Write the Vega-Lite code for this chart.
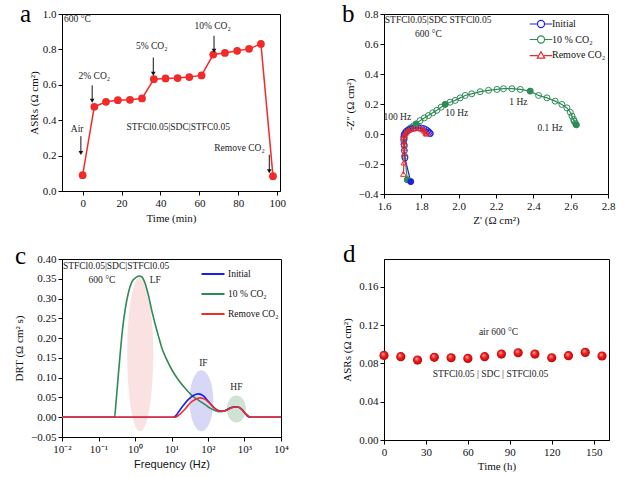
{
  "$schema": "https://vega.github.io/schema/vega-lite/v6.json",
  "padding": {"left": 13, "top": 1, "right": 5, "bottom": 2},
  "background": "white",
  "columns": 2,
  "spacing": {"row": 65, "column": 103},
  "bounds": "flush",
  "resolve": {"scale": {"color": "independent", "shape": "independent", "fill": "independent", "stroke": "independent"}, "legend": {"color": "independent", "shape": "independent"}},
  "config": {
    "font": "Liberation Serif",
    "view": {"stroke": "black", "strokeWidth": 1},
    "axis": {"grid": false, "domainColor": "black", "tickColor": "black", "labelColor": "#111", "titleColor": "#111", "labelFont": "Liberation Serif", "titleFont": "Liberation Serif", "labelFontSize": 11, "titleFontSize": 11, "titleFontWeight": "normal", "tickSize": 4, "labelPadding": 2, "labelFlush": false, "labelOverlap": false, "titlePadding": 4, "tickCount": 20},
    "legend": {"labelFont": "Liberation Serif", "labelFontSize": 10, "labelColor": "#111"},
    "text": {"font": "Liberation Serif", "fontSize": 9.5, "color": "#222"}
  },
  "datasets": {
    "asr_co2": [
      {"t": 0, "asr": 0.089}, {"t": 6.0, "asr": 0.476}, {"t": 12.0, "asr": 0.504}, {"t": 18.1, "asr": 0.513},
      {"t": 24.3, "asr": 0.515}, {"t": 30.5, "asr": 0.523}, {"t": 36.6, "asr": 0.632}, {"t": 42.6, "asr": 0.636},
      {"t": 48.8, "asr": 0.638}, {"t": 54.8, "asr": 0.644}, {"t": 61.1, "asr": 0.653}, {"t": 67.1, "asr": 0.771},
      {"t": 73.1, "asr": 0.780}, {"t": 79.4, "asr": 0.792}, {"t": 85.5, "asr": 0.803}, {"t": 91.6, "asr": 0.831},
      {"t": 97.8, "asr": 0.084}
    ],
    "a_arrows": [
      {"t": -0.9, "from": 0.31, "to": 0.215},
      {"t": 4.9, "from": 0.597, "to": 0.51},
      {"t": 36.3, "from": 0.754, "to": 0.662},
      {"t": 67.5, "from": 0.877, "to": 0.792},
      {"t": 95.9, "from": 0.205, "to": 0.112}
    ],
    "a_text": [
      {"t": -2.7, "v": 0.973, "label": "600 °C"},
      {"t": -2.8, "v": 0.348, "label": "Air"},
      {"t": 6.0, "v": 0.648, "label": "2% CO₂"},
      {"t": 35.5, "v": 0.822, "label": "5% CO₂"},
      {"t": 66.8, "v": 0.932, "label": "10% CO₂"},
      {"t": 49.1, "v": 0.364, "label": "STFCl0.05|SDC|STFC0.05"},
      {"t": 80.6, "v": 0.244, "label": "Remove CO₂"}
    ],
    "nyq": [
      {"s": "10 % CO₂", "i": 1, "zr": 1.725, "zi": -0.305, "tag": "end"},
      {"s": "10 % CO₂", "i": 2, "zr": 1.712, "zi": -0.15},
      {"s": "10 % CO₂", "i": 3, "zr": 1.709, "zi": -0.08},
      {"s": "10 % CO₂", "i": 4, "zr": 1.709, "zi": -0.03},
      {"s": "10 % CO₂", "i": 5, "zr": 1.712, "zi": 0.0},
      {"s": "10 % CO₂", "i": 6, "zr": 1.72, "zi": 0.018},
      {"s": "10 % CO₂", "i": 7, "zr": 1.732, "zi": 0.032},
      {"s": "10 % CO₂", "i": 8, "zr": 1.745, "zi": 0.043},
      {"s": "10 % CO₂", "i": 9, "zr": 1.758, "zi": 0.054},
      {"s": "10 % CO₂", "i": 10, "zr": 1.772, "zi": 0.067, "tag": "100 Hz"},
      {"s": "10 % CO₂", "i": 11, "zr": 1.793, "zi": 0.089},
      {"s": "10 % CO₂", "i": 12, "zr": 1.816, "zi": 0.107},
      {"s": "10 % CO₂", "i": 13, "zr": 1.838, "zi": 0.123},
      {"s": "10 % CO₂", "i": 14, "zr": 1.861, "zi": 0.141},
      {"s": "10 % CO₂", "i": 15, "zr": 1.883, "zi": 0.158},
      {"s": "10 % CO₂", "i": 16, "zr": 1.906, "zi": 0.179},
      {"s": "10 % CO₂", "i": 17, "zr": 1.928, "zi": 0.198, "tag": "10 Hz"},
      {"s": "10 % CO₂", "i": 18, "zr": 1.954, "zi": 0.212},
      {"s": "10 % CO₂", "i": 19, "zr": 1.981, "zi": 0.224},
      {"s": "10 % CO₂", "i": 20, "zr": 2.008, "zi": 0.241},
      {"s": "10 % CO₂", "i": 21, "zr": 2.035, "zi": 0.257},
      {"s": "10 % CO₂", "i": 22, "zr": 2.07, "zi": 0.268},
      {"s": "10 % CO₂", "i": 23, "zr": 2.115, "zi": 0.282},
      {"s": "10 % CO₂", "i": 24, "zr": 2.16, "zi": 0.291},
      {"s": "10 % CO₂", "i": 25, "zr": 2.205, "zi": 0.297},
      {"s": "10 % CO₂", "i": 26, "zr": 2.24, "zi": 0.302},
      {"s": "10 % CO₂", "i": 27, "zr": 2.285, "zi": 0.302},
      {"s": "10 % CO₂", "i": 28, "zr": 2.33, "zi": 0.297},
      {"s": "10 % CO₂", "i": 29, "zr": 2.383, "zi": 0.286, "tag": "1 Hz"},
      {"s": "10 % CO₂", "i": 30, "zr": 2.428, "zi": 0.257},
      {"s": "10 % CO₂", "i": 31, "zr": 2.473, "zi": 0.241},
      {"s": "10 % CO₂", "i": 32, "zr": 2.517, "zi": 0.219},
      {"s": "10 % CO₂", "i": 33, "zr": 2.553, "zi": 0.197},
      {"s": "10 % CO₂", "i": 34, "zr": 2.58, "zi": 0.174},
      {"s": "10 % CO₂", "i": 35, "zr": 2.598, "zi": 0.145},
      {"s": "10 % CO₂", "i": 36, "zr": 2.607, "zi": 0.119},
      {"s": "10 % CO₂", "i": 37, "zr": 2.616, "zi": 0.097},
      {"s": "10 % CO₂", "i": 38, "zr": 2.619, "zi": 0.085},
      {"s": "10 % CO₂", "i": 39, "zr": 2.625, "zi": 0.072},
      {"s": "10 % CO₂", "i": 40, "zr": 2.63, "zi": 0.061, "tag": "0.1 Hz"},
      {"s": "Initial", "i": 1, "zr": 1.743, "zi": -0.317, "tag": "end"},
      {"s": "Initial", "i": 2, "zr": 1.712, "zi": -0.16},
      {"s": "Initial", "i": 3, "zr": 1.709, "zi": -0.11},
      {"s": "Initial", "i": 4, "zr": 1.707, "zi": -0.07},
      {"s": "Initial", "i": 5, "zr": 1.706, "zi": -0.04},
      {"s": "Initial", "i": 6, "zr": 1.706, "zi": -0.02},
      {"s": "Initial", "i": 7, "zr": 1.708, "zi": -0.005},
      {"s": "Initial", "i": 8, "zr": 1.713, "zi": 0.007},
      {"s": "Initial", "i": 9, "zr": 1.72, "zi": 0.017},
      {"s": "Initial", "i": 10, "zr": 1.73, "zi": 0.026},
      {"s": "Initial", "i": 11, "zr": 1.742, "zi": 0.033},
      {"s": "Initial", "i": 12, "zr": 1.756, "zi": 0.038},
      {"s": "Initial", "i": 13, "zr": 1.771, "zi": 0.041},
      {"s": "Initial", "i": 14, "zr": 1.786, "zi": 0.042},
      {"s": "Initial", "i": 15, "zr": 1.8, "zi": 0.04},
      {"s": "Initial", "i": 16, "zr": 1.813, "zi": 0.036},
      {"s": "Initial", "i": 17, "zr": 1.825, "zi": 0.029},
      {"s": "Initial", "i": 18, "zr": 1.834, "zi": 0.021},
      {"s": "Initial", "i": 19, "zr": 1.841, "zi": 0.013},
      {"s": "Initial", "i": 20, "zr": 1.846, "zi": 0.006},
      {"s": "Initial", "i": 21, "zr": 1.848, "zi": 0.002},
      {"s": "Remove CO₂", "i": 1, "zr": 1.704, "zi": -0.266},
      {"s": "Remove CO₂", "i": 2, "zr": 1.707, "zi": -0.19},
      {"s": "Remove CO₂", "i": 3, "zr": 1.708, "zi": -0.13},
      {"s": "Remove CO₂", "i": 4, "zr": 1.708, "zi": -0.095},
      {"s": "Remove CO₂", "i": 5, "zr": 1.707, "zi": -0.065},
      {"s": "Remove CO₂", "i": 6, "zr": 1.706, "zi": -0.04},
      {"s": "Remove CO₂", "i": 7, "zr": 1.707, "zi": -0.02},
      {"s": "Remove CO₂", "i": 8, "zr": 1.709, "zi": -0.006},
      {"s": "Remove CO₂", "i": 9, "zr": 1.714, "zi": 0.006},
      {"s": "Remove CO₂", "i": 10, "zr": 1.721, "zi": 0.016},
      {"s": "Remove CO₂", "i": 11, "zr": 1.73, "zi": 0.025},
      {"s": "Remove CO₂", "i": 12, "zr": 1.742, "zi": 0.032},
      {"s": "Remove CO₂", "i": 13, "zr": 1.755, "zi": 0.037},
      {"s": "Remove CO₂", "i": 14, "zr": 1.769, "zi": 0.04},
      {"s": "Remove CO₂", "i": 15, "zr": 1.783, "zi": 0.04},
      {"s": "Remove CO₂", "i": 16, "zr": 1.796, "zi": 0.037},
      {"s": "Remove CO₂", "i": 17, "zr": 1.807, "zi": 0.031},
      {"s": "Remove CO₂", "i": 18, "zr": 1.816, "zi": 0.023},
      {"s": "Remove CO₂", "i": 19, "zr": 1.822, "zi": 0.015},
      {"s": "Remove CO₂", "i": 20, "zr": 1.826, "zi": 0.007},
      {"s": "Remove CO₂", "i": 21, "zr": 1.828, "zi": 0.002}
    ],
    "b_text": [
      {"zr": 1.89, "zi": 0.762, "label": "STFCl0.05|SDC STFCl0.05"},
      {"zr": 1.838, "zi": 0.666, "label": "600 °C"},
      {"zr": 1.671, "zi": 0.112, "label": "100 Hz"},
      {"zr": 1.99, "zi": 0.141, "label": "10 Hz"},
      {"zr": 2.32, "zi": 0.212, "label": "1 Hz"},
      {"zr": 2.49, "zi": 0.043, "label": "0.1 Hz"}
    ],
    "drt": [
      {"s": "10 % CO₂", "f": 0.01, "g": 0},
      {"s": "10 % CO₂", "f": 0.275, "g": 0},
      {"s": "10 % CO₂", "f": 0.3, "g": 0.034},
      {"s": "10 % CO₂", "f": 0.34, "g": 0.094},
      {"s": "10 % CO₂", "f": 0.394, "g": 0.162},
      {"s": "10 % CO₂", "f": 0.455, "g": 0.222},
      {"s": "10 % CO₂", "f": 0.54, "g": 0.273},
      {"s": "10 % CO₂", "f": 0.664, "g": 0.316},
      {"s": "10 % CO₂", "f": 0.822, "g": 0.342},
      {"s": "10 % CO₂", "f": 1.012, "g": 0.352},
      {"s": "10 % CO₂", "f": 1.327, "g": 0.357},
      {"s": "10 % CO₂", "f": 1.545, "g": 0.355},
      {"s": "10 % CO₂", "f": 1.901, "g": 0.338},
      {"s": "10 % CO₂", "f": 2.339, "g": 0.308},
      {"s": "10 % CO₂", "f": 2.897, "g": 0.269},
      {"s": "10 % CO₂", "f": 3.573, "g": 0.235},
      {"s": "10 % CO₂", "f": 4.395, "g": 0.205},
      {"s": "10 % CO₂", "f": 5.445, "g": 0.175},
      {"s": "10 % CO₂", "f": 7.464, "g": 0.145},
      {"s": "10 % CO₂", "f": 10.23, "g": 0.12},
      {"s": "10 % CO₂", "f": 15.49, "g": 0.094},
      {"s": "10 % CO₂", "f": 23.6, "g": 0.073},
      {"s": "10 % CO₂", "f": 36.06, "g": 0.055},
      {"s": "10 % CO₂", "f": 54.58, "g": 0.043},
      {"s": "10 % CO₂", "f": 83.37, "g": 0.032},
      {"s": "10 % CO₂", "f": 114.0, "g": 0.023},
      {"s": "10 % CO₂", "f": 156.3, "g": 0.017},
      {"s": "10 % CO₂", "f": 214.3, "g": 0.014},
      {"s": "10 % CO₂", "f": 293.8, "g": 0.017},
      {"s": "10 % CO₂", "f": 401.8, "g": 0.023},
      {"s": "10 % CO₂", "f": 550.8, "g": 0.026},
      {"s": "10 % CO₂", "f": 700, "g": 0.025},
      {"s": "10 % CO₂", "f": 880, "g": 0.018},
      {"s": "10 % CO₂", "f": 1100, "g": 0.008},
      {"s": "10 % CO₂", "f": 1350, "g": 0.001},
      {"s": "10 % CO₂", "f": 1500, "g": 0},
      {"s": "10 % CO₂", "f": 10000, "g": 0},
      {"s": "Initial", "f": 0.01, "g": 0},
      {"s": "Initial", "f": 11.3, "g": 0},
      {"s": "Initial", "f": 13.2, "g": 0.004},
      {"s": "Initial", "f": 15.5, "g": 0.013},
      {"s": "Initial", "f": 21.2, "g": 0.03},
      {"s": "Initial", "f": 29.1, "g": 0.045},
      {"s": "Initial", "f": 39.8, "g": 0.055},
      {"s": "Initial", "f": 54.6, "g": 0.059},
      {"s": "Initial", "f": 74.8, "g": 0.054},
      {"s": "Initial", "f": 102.3, "g": 0.04},
      {"s": "Initial", "f": 140.6, "g": 0.026},
      {"s": "Initial", "f": 192.8, "g": 0.017},
      {"s": "Initial", "f": 263, "g": 0.015},
      {"s": "Initial", "f": 361.4, "g": 0.021},
      {"s": "Initial", "f": 495.5, "g": 0.026},
      {"s": "Initial", "f": 638, "g": 0.026},
      {"s": "Initial", "f": 841, "g": 0.02},
      {"s": "Initial", "f": 1035, "g": 0.01},
      {"s": "Initial", "f": 1276, "g": 0.001},
      {"s": "Initial", "f": 1450, "g": 0},
      {"s": "Initial", "f": 10000, "g": 0},
      {"s": "Remove CO₂", "f": 0.01, "g": 0},
      {"s": "Remove CO₂", "f": 12.6, "g": 0},
      {"s": "Remove CO₂", "f": 17.2, "g": 0.008},
      {"s": "Remove CO₂", "f": 23.6, "g": 0.021},
      {"s": "Remove CO₂", "f": 32.4, "g": 0.036},
      {"s": "Remove CO₂", "f": 44.4, "g": 0.045},
      {"s": "Remove CO₂", "f": 60.8, "g": 0.049},
      {"s": "Remove CO₂", "f": 83.4, "g": 0.045},
      {"s": "Remove CO₂", "f": 114, "g": 0.034},
      {"s": "Remove CO₂", "f": 156.3, "g": 0.021},
      {"s": "Remove CO₂", "f": 214.3, "g": 0.015},
      {"s": "Remove CO₂", "f": 293.8, "g": 0.016},
      {"s": "Remove CO₂", "f": 401.8, "g": 0.022},
      {"s": "Remove CO₂", "f": 550.8, "g": 0.026},
      {"s": "Remove CO₂", "f": 700, "g": 0.025},
      {"s": "Remove CO₂", "f": 880, "g": 0.018},
      {"s": "Remove CO₂", "f": 1100, "g": 0.008},
      {"s": "Remove CO₂", "f": 1350, "g": 0.001},
      {"s": "Remove CO₂", "f": 1500, "g": 0},
      {"s": "Remove CO₂", "f": 10000, "g": 0}
    ],
    "drt_regions": [
      {"region": "LF", "f": 1.387, "g": 0.16},
      {"region": "IF", "f": 66, "g": 0.0415},
      {"region": "HF", "f": 598, "g": 0.0205}
    ],
    "c_text": [
      {"f": 0.302, "g": 0.382, "label": "STFCl0.05|SDC|STFCl0.05"},
      {"f": 0.124, "g": 0.346, "label": "600 °C"},
      {"f": 3.57, "g": 0.346, "label": "LF"},
      {"f": 74.8, "g": 0.137, "label": "IF"},
      {"f": 598, "g": 0.077, "label": "HF"}
    ],
    "asr_time": [
      {"h": 0, "asr": 0.0883}, {"h": 12, "asr": 0.087}, {"h": 24, "asr": 0.0835}, {"h": 36, "asr": 0.0863},
      {"h": 48, "asr": 0.0859}, {"h": 60, "asr": 0.0852}, {"h": 72, "asr": 0.087}, {"h": 84, "asr": 0.0897},
      {"h": 96, "asr": 0.0911}, {"h": 108, "asr": 0.0897}, {"h": 120, "asr": 0.0859}, {"h": 132, "asr": 0.088},
      {"h": 144, "asr": 0.0915}, {"h": 156, "asr": 0.0877}
    ],
    "d_text": [
      {"h": 81.9, "v": 0.1123, "label": "air 600 °C"},
      {"h": 76.2, "v": 0.0689, "label": "STFCl0.05 | SDC | STFCl0.05"}
    ]
  },
  "concat": [
    {
      "width": 218, "height": 177,
      "layer": [
        {"data": {"name": "asr_co2"}, "mark": {"type": "line", "color": "#f22a2a", "strokeWidth": 1.5},
         "encoding": {
           "x": {"field": "t", "type": "quantitative", "scale": {"domain": [-10.6, 101.4], "nice": false, "zero": false}, "axis": {"values": [0, 20, 40, 60, 80, 100], "title": "Time (min)", "titlePadding": 4}},
           "y": {"field": "asr", "type": "quantitative", "scale": {"domain": [0, 1], "nice": false}, "axis": {"values": [0, 0.2, 0.4, 0.6, 0.8, 1.0], "format": ".1f", "title": "ASRs (Ω cm²)", "titlePadding": 3}}}},
        {"data": {"name": "asr_co2"}, "mark": {"type": "point", "filled": true, "opacity": 1, "color": "#f22a2a", "size": 60},
         "encoding": {"x": {"field": "t", "type": "quantitative"}, "y": {"field": "asr", "type": "quantitative"}}},
        {"data": {"name": "a_arrows"}, "mark": {"type": "rule", "color": "#111", "strokeWidth": 1},
         "encoding": {"x": {"field": "t", "type": "quantitative"}, "y": {"field": "from", "type": "quantitative"}, "y2": {"field": "to"}}},
        {"data": {"name": "a_arrows"}, "mark": {"type": "point", "shape": "triangle-down", "filled": true, "opacity": 1, "color": "#111", "size": 22},
         "encoding": {"x": {"field": "t", "type": "quantitative"}, "y": {"field": "to", "type": "quantitative"}}},
        {"data": {"name": "a_text"}, "mark": {"type": "text"},
         "encoding": {"x": {"field": "t", "type": "quantitative"}, "y": {"field": "v", "type": "quantitative"}, "text": {"field": "label"}}},
        {"data": {"values": [{"t": -10.6, "v": 1.0, "label": "a"}]}, "mark": {"type": "text", "fontSize": 25, "color": "black", "align": "left", "baseline": "top", "dx": -42, "dy": -12},
         "encoding": {"x": {"field": "t", "type": "quantitative"}, "y": {"field": "v", "type": "quantitative"}, "text": {"field": "label"}}}
      ]
    },
    {
      "width": 224, "height": 180,
      "layer": [
        {"mark": {"type": "rule", "color": "#444", "strokeWidth": 1}, "encoding": {"y": {"datum": 0, "type": "quantitative"}}},
        {"data": {"name": "nyq"}, "mark": {"type": "line", "strokeWidth": 1.2},
         "encoding": {
           "x": {"field": "zr", "type": "quantitative", "scale": {"domain": [1.6, 2.8], "nice": false, "zero": false}, "axis": {"values": [1.6, 1.8, 2.0, 2.2, 2.4, 2.6, 2.8], "format": ".1f", "title": "Z' (Ω cm²)", "titlePadding": 3}},
           "y": {"field": "zi", "type": "quantitative", "scale": {"domain": [-0.4, 0.8], "nice": false, "zero": false}, "axis": {"values": [-0.4, -0.2, 0, 0.2, 0.4, 0.6, 0.8], "format": ".1f", "title": "-Z'' (Ω cm²)", "titlePadding": 3}},
           "stroke": {"field": "s", "type": "nominal", "scale": {"domain": ["10 % CO₂", "Initial", "Remove CO₂"], "range": ["#2e8b57", "#2020e0", "#e82a2a"]}, "legend": null},
           "detail": {"field": "s"},
           "order": {"field": "i", "type": "quantitative"}}},
        {"data": {"name": "nyq"}, "transform": [{"filter": "datum.s !== 'Remove CO₂'"}],
         "mark": {"type": "point", "shape": "circle", "filled": false, "size": 36, "strokeWidth": 1, "opacity": 1},
         "encoding": {"x": {"field": "zr", "type": "quantitative"}, "y": {"field": "zi", "type": "quantitative"},
           "stroke": {"field": "s", "type": "nominal", "legend": null}}},
        {"data": {"name": "nyq"}, "transform": [{"filter": "datum.s === 'Remove CO₂'"}],
         "mark": {"type": "point", "shape": "triangle-up", "filled": false, "size": 32, "strokeWidth": 1, "opacity": 1},
         "encoding": {"x": {"field": "zr", "type": "quantitative"}, "y": {"field": "zi", "type": "quantitative"},
           "stroke": {"field": "s", "type": "nominal", "legend": null}}},
        {"data": {"name": "nyq"}, "transform": [{"filter": "isValid(datum.tag)"}],
         "mark": {"type": "point", "shape": "circle", "filled": true, "size": 40, "opacity": 1},
         "encoding": {"x": {"field": "zr", "type": "quantitative"}, "y": {"field": "zi", "type": "quantitative"},
           "fill": {"field": "s", "type": "nominal", "scale": {"domain": ["Remove CO₂", "10 % CO₂", "Initial"], "range": ["#e82a2a", "#2e8b57", "#2020e0"]}, "legend": null}}},
        {"data": {"name": "nyq"}, "mark": {"type": "point", "filled": false, "size": 0, "strokeWidth": 1.2, "opacity": 1},
         "encoding": {"x": {"field": "zr", "type": "quantitative"}, "y": {"field": "zi", "type": "quantitative"},
           "color": {"field": "s", "type": "nominal", "scale": {"domain": ["Initial", "10 % CO₂", "Remove CO₂"], "range": ["#2020e0", "#2e8b57", "#e82a2a"]}, "legend": {"orient": "top-right", "offset": 2, "title": null, "symbolSize": 200, "symbolStrokeWidth": 1.2, "labelFontSize": 10, "rowPadding": 1.5, "padding": 0, "labelOffset": 3}},
           "shape": {"field": "s", "type": "nominal", "scale": {"domain": ["Initial", "10 % CO₂", "Remove CO₂"], "range": ["M-1.6,0L-0.55,0M0.55,0L1.6,0M-0.5,0A0.5,0.5,0,1,0,0.5,0A0.5,0.5,0,1,0,-0.5,0Z", "M-1.6,0L-0.55,0M0.55,0L1.6,0M-0.5,0A0.5,0.5,0,1,0,0.5,0A0.5,0.5,0,1,0,-0.5,0Z", "M-1.6,0.1L-0.45,0.1M0.45,0.1L1.6,0.1M0,-0.45L0.52,0.45L-0.52,0.45Z"]}, "legend": {"orient": "top-right", "offset": 2, "title": null, "symbolSize": 200, "symbolStrokeWidth": 1.2, "labelFontSize": 10, "rowPadding": 1.5, "padding": 0, "labelOffset": 3}}}},
        {"data": {"name": "b_text"}, "mark": {"type": "text"},
         "encoding": {"x": {"field": "zr", "type": "quantitative"}, "y": {"field": "zi", "type": "quantitative"}, "text": {"field": "label"}}},
        {"data": {"values": [{"zr": 1.6, "zi": 0.8, "label": "b"}]}, "mark": {"type": "text", "fontSize": 25, "color": "black", "align": "left", "baseline": "top", "dx": -42, "dy": -12},
         "encoding": {"x": {"field": "zr", "type": "quantitative"}, "y": {"field": "zi", "type": "quantitative"}, "text": {"field": "label"}}}
      ]
    },
    {
      "width": 219, "height": 178,
      "layer": [
        {"data": {"name": "drt_regions"}, "transform": [{"filter": "datum.region === 'LF'"}],
         "mark": {"type": "point", "filled": true, "opacity": 1, "color": "#fbe2e2", "size": 24025, "shape": "M0,-1A0.168,1,0,1,1,0,1A0.168,1,0,1,1,0,-1Z"},
         "encoding": {
           "x": {"field": "f", "type": "quantitative", "scale": {"type": "log", "domain": [0.01, 10000], "nice": false}, "axis": {"values": [0.01, 0.1, 1, 10, 100, 1000, 10000], "labelExpr": "datum.value < 0.05 ? '10⁻²' : datum.value < 0.5 ? '10⁻¹' : datum.value < 5 ? '10⁰' : datum.value < 50 ? '10¹' : datum.value < 500 ? '10²' : datum.value < 5000 ? '10³' : '10⁴'", "title": "Frequency (Hz)", "titleFont": "Liberation Sans", "titleFontSize": 11, "titlePadding": 4}},
           "y": {"field": "g", "type": "quantitative", "scale": {"domain": [-0.05, 0.4], "nice": false, "zero": false}, "axis": {"values": [-0.05, 0, 0.05, 0.1, 0.15, 0.2, 0.25, 0.3, 0.35, 0.4], "format": ".2f", "title": "DRT (Ω cm² s)", "titlePadding": 6}}}},
        {"data": {"name": "drt_regions"}, "transform": [{"filter": "datum.region === 'IF'"}],
         "mark": {"type": "point", "filled": true, "opacity": 1, "color": "#d8d8f6", "size": 3721, "shape": "M0,-1A0.39,1,0,1,1,0,1A0.39,1,0,1,1,0,-1Z"},
         "encoding": {"x": {"field": "f", "type": "quantitative"}, "y": {"field": "g", "type": "quantitative"}}},
        {"data": {"name": "drt_regions"}, "transform": [{"filter": "datum.region === 'HF'"}],
         "mark": {"type": "point", "filled": true, "opacity": 1, "color": "#cfe3d4", "size": 729, "shape": "M0,-1A0.71,1,0,1,1,0,1A0.71,1,0,1,1,0,-1Z"},
         "encoding": {"x": {"field": "f", "type": "quantitative"}, "y": {"field": "g", "type": "quantitative"}}},
        {"data": {"name": "drt"}, "mark": {"type": "line", "strokeWidth": 1.6, "interpolate": "monotone"},
         "encoding": {"x": {"field": "f", "type": "quantitative"}, "y": {"field": "g", "type": "quantitative"},
           "color": {"field": "s", "type": "nominal", "scale": {"domain": ["Initial", "10 % CO₂", "Remove CO₂"], "range": ["#1c1cf0", "#2e8b57", "#ee2c2c"]},
             "legend": {"orient": "top-right", "offset": 2, "title": null, "symbolType": "stroke", "symbolStrokeWidth": 2, "symbolSize": 530, "labelFontSize": 9.5, "rowPadding": 2, "padding": 0, "labelOffset": 2}}}},
        {"data": {"name": "c_text"}, "mark": {"type": "text"},
         "encoding": {"x": {"field": "f", "type": "quantitative"}, "y": {"field": "g", "type": "quantitative"}, "text": {"field": "label"}}},
        {"data": {"values": [{"f": 0.01, "g": 0.4, "label": "c"}]}, "mark": {"type": "text", "fontSize": 25, "color": "black", "align": "left", "baseline": "top", "dx": -47, "dy": -15},
         "encoding": {"x": {"field": "f", "type": "quantitative"}, "y": {"field": "g", "type": "quantitative"}, "text": {"field": "label"}}}
      ]
    },
    {
      "width": 225, "height": 181,
      "layer": [
        {"data": {"name": "asr_time"},
         "mark": {"type": "point", "filled": true, "opacity": 1, "size": 85, "strokeWidth": 0,
           "fill": {"gradient": "radial", "x1": 0.38, "y1": 0.32, "r1": 0, "x2": 0.5, "y2": 0.5, "r2": 0.55, "stops": [{"offset": 0, "color": "#ffb4b4"}, {"offset": 0.45, "color": "#f02020"}, {"offset": 1, "color": "#b80000"}]}},
         "encoding": {
           "x": {"field": "h", "type": "quantitative", "scale": {"domain": [0, 161], "nice": false}, "axis": {"values": [0, 30, 60, 90, 120, 150], "title": "Time (h)", "titlePadding": 3}},
           "y": {"field": "asr", "type": "quantitative", "scale": {"domain": [0, 0.189], "nice": false}, "axis": {"values": [0, 0.04, 0.08, 0.12, 0.16], "format": ".2f", "title": "ASRs (Ω cm²)", "titlePadding": 6}}}},
        {"data": {"name": "d_text"}, "mark": {"type": "text"},
         "encoding": {"x": {"field": "h", "type": "quantitative"}, "y": {"field": "v", "type": "quantitative"}, "text": {"field": "label"}}},
        {"data": {"values": [{"h": 0, "v": 0.189, "label": "d"}]}, "mark": {"type": "text", "fontSize": 25, "color": "black", "align": "left", "baseline": "top", "dx": -41, "dy": -17},
         "encoding": {"x": {"field": "h", "type": "quantitative"}, "y": {"field": "v", "type": "quantitative"}, "text": {"field": "label"}}}
      ]
    }
  ]
}
